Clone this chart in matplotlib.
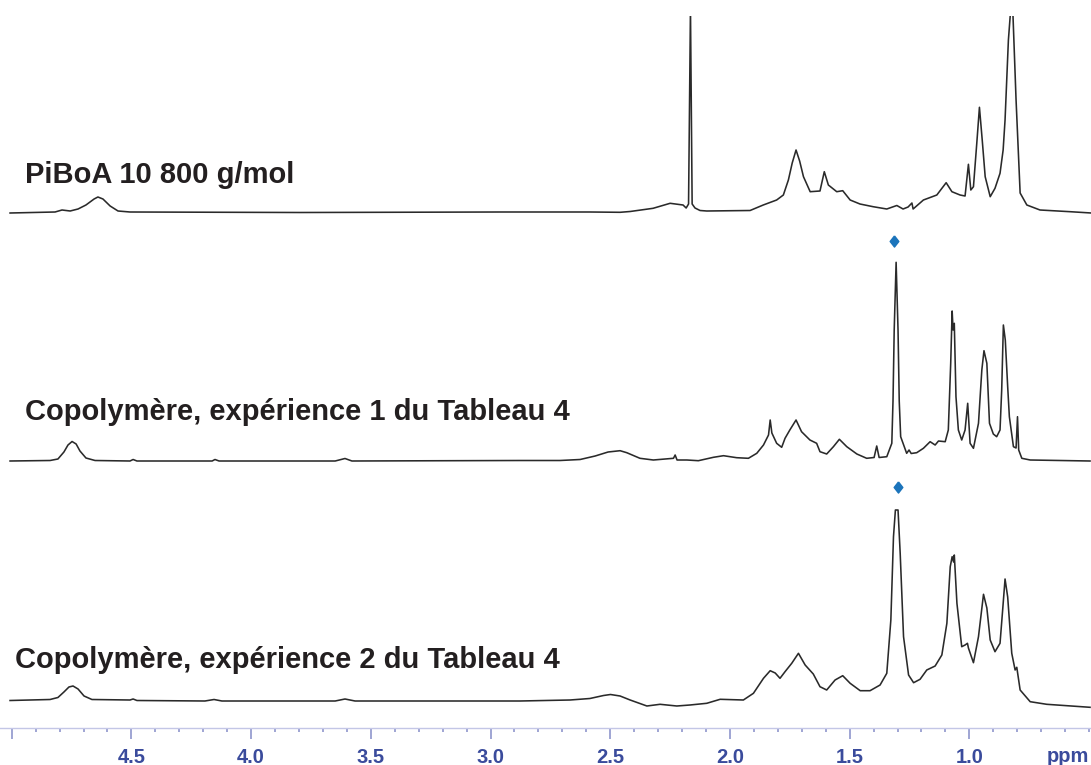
import matplotlib
matplotlib.use("Agg")
import matplotlib.pyplot as plt
from matplotlib.ticker import MultipleLocator

plt.rcParams['font.family'] = ['Liberation Sans', 'DejaVu Sans']

# spectre 1 : PiBoA 10 800 g/mol (ppm, intensite)
ppm1 = [5.007, 4.819, 4.790, 4.756, 4.723, 4.690, 4.656, 4.640, 4.619, 4.589,
        4.556, 4.506, 3.796, 2.960, 2.585, 2.459, 2.417, 2.321, 2.250, 2.196,
        2.183, 2.173, 2.165, 2.158, 2.146, 2.125, 2.097, 1.916, 1.861, 1.805,
        1.777, 1.756, 1.740, 1.724, 1.709, 1.693, 1.665, 1.624, 1.606, 1.589,
        1.554, 1.529, 1.498, 1.457, 1.402, 1.345, 1.303, 1.277, 1.256, 1.240,
        1.235, 1.192, 1.136, 1.097, 1.073, 1.039, 1.018, 1.004, 0.994, 0.983,
        0.969, 0.958, 0.946, 0.934, 0.913, 0.893, 0.872, 0.859, 0.851, 0.837,
        0.827, 0.819, 0.805, 0.788, 0.760, 0.705, 0.579, 0.491]
int1 = [0, 1, 3, 2, 4, 8, 14, 16, 14, 7,
        2, 1, 0.5, 1, 1, 0.7, 1.5, 4.7, 9.7, 8,
        5, 9, 205, 9, 5, 2.5, 2, 2.5, 8, 13,
        18, 33, 50, 63, 52, 36.3, 21.3, 22, 41.3, 28,
        21.3, 22.3, 13, 9, 6.3, 4, 7.5, 4, 6, 10,
        4, 13, 18, 30.3, 21.3, 18, 17, 48.7, 23, 26.3,
        70, 105.7, 72, 36.3, 16.3, 24.7, 39.7, 63, 93, 173,
        205, 205, 113, 20, 8, 3, 1.3, 0]

# spectre 2 : copolymere, experience 1
ppm2 = [5.007, 4.840, 4.807, 4.782, 4.765, 4.748, 4.731, 4.715, 4.690, 4.652,
        4.506, 4.493, 4.477, 4.163, 4.151, 4.134, 3.649, 3.608, 3.579, 2.877,
        2.710, 2.626, 2.563, 2.509, 2.459, 2.431, 2.376, 2.320, 2.236, 2.229,
        2.221, 2.180, 2.132, 2.069, 2.027, 1.972, 1.923, 1.888, 1.860, 1.839,
        1.832, 1.825, 1.805, 1.784, 1.770, 1.750, 1.724, 1.701, 1.666, 1.638,
        1.624, 1.596, 1.568, 1.543, 1.512, 1.470, 1.429, 1.398, 1.387, 1.377,
        1.345, 1.324, 1.319, 1.314, 1.306, 1.298, 1.293, 1.287, 1.262, 1.252,
        1.243, 1.220, 1.192, 1.164, 1.143, 1.129, 1.101, 1.088, 1.078, 1.072,
        1.068, 1.063, 1.056, 1.046, 1.032, 1.018, 1.007, 0.997, 0.983, 0.962,
        0.948, 0.939, 0.927, 0.916, 0.900, 0.886, 0.872, 0.865, 0.858, 0.850,
        0.840, 0.833, 0.816, 0.805, 0.799, 0.794, 0.781, 0.746, 0.496]
int2 = [0, 0.5, 2, 9, 16, 19.5, 17, 10, 3, 0.5,
        0, 1.5, 0, 0, 1.5, 0, 0, 2.5, 0, 0.5,
        0.5, 1.5, 5, 9, 10.3, 8.3, 2.7, 1, 2.7, 6,
        1, 1, 0.3, 3.7, 5.3, 3.3, 2.7, 7.7, 16, 26,
        41, 28, 17.7, 13.7, 22.7, 31, 41, 29.3, 21, 17.7,
        9.3, 7, 14.3, 21.7, 14.3, 7, 2.7, 3.5, 15, 3.5,
        4.3, 17.7, 60, 131, 198.7, 131, 60, 24.3, 7.7, 11,
        7.5, 8.3, 12.7, 19.3, 16, 20, 19.3, 31, 97.7, 150,
        131, 137.7, 64.3, 31, 21, 31, 57.7, 17.7, 12.7, 37.7,
        91, 110.3, 97.7, 37.7, 27, 24.3, 31, 71, 136, 121,
        74.3, 44.3, 14.3, 13, 44.3, 11, 2.7, 1, 0]

# spectre 3 : copolymere, experience 2
ppm3 = [5.007, 4.840, 4.807, 4.782, 4.761, 4.744, 4.723, 4.698, 4.665, 4.506,
        4.493, 4.477, 4.193, 4.155, 4.122, 3.649, 3.608, 3.566, 2.877, 2.668,
        2.585, 2.528, 2.499, 2.459, 2.417, 2.347, 2.292, 2.222, 2.167, 2.097,
        2.041, 1.944, 1.902, 1.860, 1.832, 1.811, 1.791, 1.770, 1.742, 1.714,
        1.686, 1.652, 1.624, 1.596, 1.561, 1.529, 1.498, 1.456, 1.415, 1.373,
        1.345, 1.328, 1.317, 1.309, 1.298, 1.289, 1.275, 1.254, 1.233, 1.206,
        1.178, 1.143, 1.115, 1.094, 1.080, 1.072, 1.066, 1.063, 1.052, 1.032,
        1.018, 1.008, 1.004, 0.983, 0.962, 0.941, 0.927, 0.913, 0.893, 0.872,
        0.861, 0.851, 0.840, 0.823, 0.809, 0.802, 0.788, 0.746, 0.677, 0.496]
int3 = [0.5, 1.5, 3.5, 9, 14, 15, 12, 5, 1.5, 1,
        2, 0.5, 0, 1.5, 0, 0, 2, 0, 0, 1,
        2.5, 5.5, 6.5, 5, 1, -5, -3.3, -5, -4, -2.3,
        1.7, 1, 7.7, 22.7, 30.3, 28, 22.7, 29.3, 37.7, 47.7,
        36, 27, 14.3, 11, 21, 25.3, 17.7, 10.3, 10.3, 16,
        27.7, 81, 164.3, 191, 191, 147.7, 64.3, 26, 18.3, 21.7,
        31, 35, 46, 77.7, 134.3, 144.3, 139, 146, 97.7, 54.3,
        56, 57.7, 53, 38.3, 64.3, 106.7, 93, 61, 49.3, 57.7,
        91, 122, 104, 47.7, 31, 33.7, 11, -0.7, -3.3, -6.3]

labels = ['PiBoA 10 800 g/mol',
          'Copolymère, expérience 1 du Tableau 4',
          'Copolymère, expérience 2 du Tableau 4']
marker_ppm = [1.315, 1.297]      # pics marques d'un losange
major_ticks = [5.0, 4.5, 4.0, 3.5, 3.0, 2.5, 2.0, 1.5, 1.0]
tick_labels = ['', '4.5', '4.0', '3.5', '3.0', '2.5', '2.0', '1.5', '1.0']

W, H = 1091, 765
fig = plt.figure(figsize=(W / 100, H / 100), dpi=100)
ax_bottom = 727.7   # position de l'axe en pixels (depuis le haut)
ax_top = 16
ax = fig.add_axes([0, (H - ax_bottom) / H, 1, (ax_bottom - ax_top) / H])
ax.set_xlim(5.049, 0.492)
ax.set_ylim(0, ax_bottom - ax_top)

# decalages verticaux des trois spectres (ligne de base en pixels)
offsets = [ax_bottom - 213, ax_bottom - 461, ax_bottom - 701]
for p, i, off in zip([ppm1, ppm2, ppm3], [int1, int2, int3], offsets):
    ax.plot(p, [v + off for v in i], color='#2a2a2a', lw=1.15,
            solid_joinstyle='round')

# losanges bleus au-dessus du pic a 1.31 ppm
diamond = [(0, 1), (0.78, 0), (0, -1), (-0.78, 0), (0, 1)]
for mp, yd in zip(marker_ppm, [ax_bottom - 240.7, ax_bottom - 487.3]):
    ax.plot(mp, yd, marker=diamond, ms=8, color='#1b74bb', ls='none')

for s in ['left', 'right', 'top']:
    ax.spines[s].set_visible(False)
ax.spines['bottom'].set_color('#c3c6e6')
ax.spines['bottom'].set_linewidth(1.0)
ax.set_yticks([])
ax.set_xticks(major_ticks)
ax.set_xticklabels(tick_labels)
ax.xaxis.set_minor_locator(MultipleLocator(0.1))
ax.tick_params(axis='x', which='major', direction='out', length=7.7,
               width=1.2, color='#8f96cc', pad=7, labelsize=14.5,
               labelcolor='#3a4b9c')
ax.tick_params(axis='x', which='minor', direction='out', length=2.9,
               width=1.2, color='#8f96cc')
for t in ax.get_xticklabels():
    t.set_fontweight('bold')

fig.text(1089 / W, 1 - 761.5 / H, 'ppm', ha='right', va='baseline',
         fontsize=14.5, fontweight='bold', color='#3a4b9c')

for lab, (x, y) in zip(labels, [(25, 183), (25, 420), (15, 668)]):
    fig.text(x / W, 1 - y / H, lab, ha='left', va='baseline',
             fontsize=21, fontweight='bold', color='#231f20')

fig.savefig('out.png', dpi=100)
